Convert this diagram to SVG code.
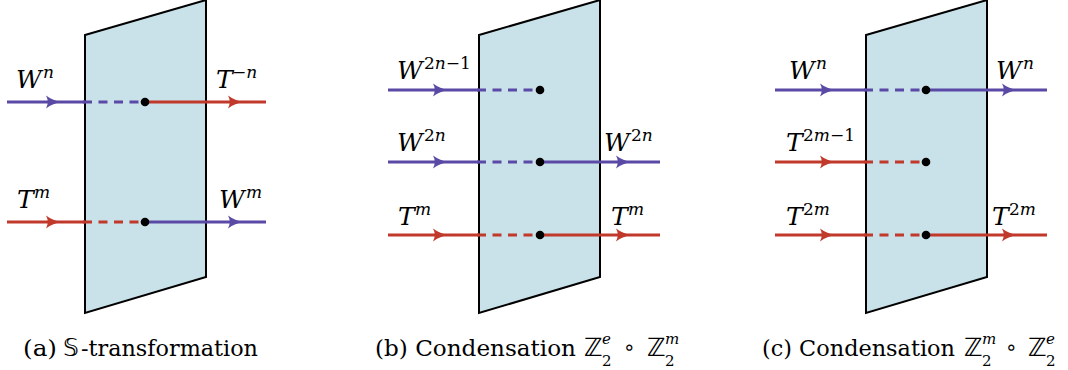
<svg xmlns="http://www.w3.org/2000/svg" width="1068" height="370" viewBox="0 0 1068 370">
<style>
.plane{fill:#c9e1e8;stroke:#000;stroke-width:2;stroke-linejoin:miter}
.pu{stroke:#5b49a6;stroke-width:3;fill:none}
.rd{stroke:#c0392b;stroke-width:3;fill:none}
.dash{stroke-dasharray:9 6.5}
.apu{fill:#5b49a6}
.ard{fill:#c0392b}
.dot{fill:#000}
.m{font-family:"DejaVu Serif",serif;font-style:italic;font-size:25px;fill:#000}
.s{font-family:"DejaVu Serif",serif;font-style:italic;font-size:17px;fill:#000}
.sr{font-family:"DejaVu Serif",serif;font-size:17px;fill:#000}
.cap{font-family:"DejaVu Serif",serif;font-size:23px;fill:#000}
.bb{font-family:"DejaVu Sans",sans-serif;font-size:25px;fill:#000}
.op{font-family:"DejaVu Sans",sans-serif;font-size:20px;fill:#000}
.cs{font-family:"DejaVu Serif",serif;font-size:15px;fill:#000}
.csi{font-family:"DejaVu Serif",serif;font-style:italic;font-size:15px;fill:#000}
</style>
<defs>
<path id="ah" d="M-9,-6.5 Q-2,-1.2 7,0 Q-2,1.2 -9,6.5 Q-5.5,0 -9,-6.5 Z"/>
</defs>

<!-- Panel (a) -->
<g id="plane-a"><polygon class="plane" points="85,35 206,0 206,277 85,313"/></g>
<g id="connectors-a">
<path class="pu" d="M7,102 H85"/>
<path class="pu dash" d="M83,102 H145"/>
<path class="rd" d="M145,102 H266"/>
<path class="rd" d="M7,222 H85"/>
<path class="rd dash" d="M83,222 H145"/>
<path class="pu" d="M145,222 H266"/>
<use href="#ah" class="apu" x="55" y="102"/>
<use href="#ah" class="ard" x="237" y="102"/>
<use href="#ah" class="ard" x="55" y="222"/>
<use href="#ah" class="apu" x="237" y="222"/>
</g>
<g id="dots-a"><circle class="dot" cx="145" cy="102" r="4.3"/><circle class="dot" cx="145" cy="222" r="4.3"/></g>
<g id="labels-a">
<text class="m" x="16" y="88">W</text><text class="s" x="43" y="78">n</text>
<text class="m" x="216" y="88">T</text><text class="sr" x="232" y="78">−<tspan class="s">n</tspan></text>
<text class="m" x="17" y="208">T</text><text class="s" x="34" y="198">m</text>
<text class="m" x="219" y="208">W</text><text class="s" x="246" y="198">m</text>
</g>

<!-- Panel (b) -->
<g id="plane-b"><polygon class="plane" points="479,35 600,0 600,277 479,313"/></g>
<g id="connectors-b">
<path class="pu" d="M388,90 H479"/>
<path class="pu dash" d="M477,90 H540"/>
<path class="pu" d="M388,162 H479"/>
<path class="pu dash" d="M477,162 H540"/>
<path class="pu" d="M540,162 H660"/>
<path class="rd" d="M388,235 H479"/>
<path class="rd dash" d="M477,235 H540"/>
<path class="rd" d="M540,235 H660"/>
<use href="#ah" class="apu" x="442" y="90"/>
<use href="#ah" class="apu" x="442" y="162"/>
<use href="#ah" class="apu" x="625" y="162"/>
<use href="#ah" class="ard" x="442" y="235"/>
<use href="#ah" class="ard" x="625" y="235"/>
</g>
<g id="dots-b"><circle class="dot" cx="540" cy="90" r="4.3"/><circle class="dot" cx="540" cy="162" r="4.3"/><circle class="dot" cx="540" cy="235" r="4.3"/></g>
<g id="labels-b">
<text class="m" x="397" y="79">W</text><text class="sr" x="424" y="69">2<tspan class="s">n</tspan>−1</text>
<text class="m" x="397" y="151">W</text><text class="sr" x="424" y="141">2<tspan class="s">n</tspan></text>
<text class="m" x="604" y="151">W</text><text class="sr" x="631" y="141">2<tspan class="s">n</tspan></text>
<text class="m" x="398" y="225">T</text><text class="s" x="415" y="215">m</text>
<text class="m" x="611" y="225">T</text><text class="s" x="628" y="215">m</text>
</g>

<!-- Panel (c) -->
<g id="plane-c"><polygon class="plane" points="866,35 987,0 987,277 866,313"/></g>
<g id="connectors-c">
<path class="pu" d="M775,90 H866"/>
<path class="pu dash" d="M864,90 H926"/>
<path class="pu" d="M926,90 H1047"/>
<path class="rd" d="M775,162 H866"/>
<path class="rd dash" d="M864,162 H926"/>
<path class="rd" d="M775,235 H866"/>
<path class="rd dash" d="M864,235 H926"/>
<path class="rd" d="M926,235 H1047"/>
<use href="#ah" class="apu" x="829" y="90"/>
<use href="#ah" class="apu" x="1011" y="90"/>
<use href="#ah" class="ard" x="829" y="162"/>
<use href="#ah" class="ard" x="829" y="235"/>
<use href="#ah" class="ard" x="1011" y="235"/>
</g>
<g id="dots-c"><circle class="dot" cx="926" cy="90" r="4.3"/><circle class="dot" cx="926" cy="162" r="4.3"/><circle class="dot" cx="926" cy="235" r="4.3"/></g>
<g id="labels-c">
<text class="m" x="789" y="79">W</text><text class="s" x="816" y="69">n</text>
<text class="m" x="996" y="79">W</text><text class="s" x="1023" y="69">n</text>
<text class="m" x="786" y="151">T</text><text class="sr" x="803" y="141">2<tspan class="s">m</tspan>−1</text>
<text class="m" x="786" y="225">T</text><text class="sr" x="803" y="215">2<tspan class="s">m</tspan></text>
<text class="m" x="992" y="225">T</text><text class="sr" x="1009" y="215">2<tspan class="s">m</tspan></text>
</g>

<!-- Captions -->
<g id="caption-a">
<text class="cap" x="23" y="356" textLength="34" lengthAdjust="spacingAndGlyphs">(a)</text>
<text class="bb" x="63" y="356">𝕊</text>
<text class="cap" x="81" y="356" textLength="177" lengthAdjust="spacingAndGlyphs">-transformation</text>
</g>
<g id="caption-b">
<text class="cap" x="375" y="356" textLength="201" lengthAdjust="spacingAndGlyphs">(b) Condensation</text>
<text class="bb" x="584" y="356">ℤ</text>
<text class="csi" x="602" y="344">e</text>
<text class="cs" x="602" y="366">2</text>
<text class="op" x="623" y="354">∘</text>
<text class="bb" x="647" y="356">ℤ</text>
<text class="csi" x="665" y="344">m</text>
<text class="cs" x="665" y="366">2</text>
</g>
<g id="caption-c">
<text class="cap" x="762" y="356" textLength="193" lengthAdjust="spacingAndGlyphs">(c) Condensation</text>
<text class="bb" x="964" y="356">ℤ</text>
<text class="csi" x="982" y="344">m</text>
<text class="cs" x="982" y="366">2</text>
<text class="op" x="1005" y="354">∘</text>
<text class="bb" x="1028" y="356">ℤ</text>
<text class="csi" x="1046" y="344">e</text>
<text class="cs" x="1046" y="366">2</text>
</g>
</svg>
